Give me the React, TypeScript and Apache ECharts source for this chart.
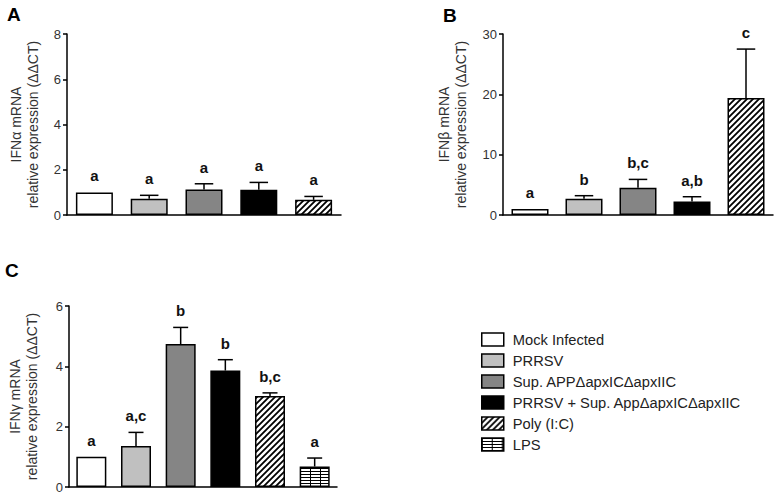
import React, { useEffect, useRef } from "react";
import * as echarts from "echarts";

const treatments = [
  "Mock Infected",
  "PRRSV",
  "Sup. APPΔapxICΔapxIIC",
  "PRRSV + Sup. AppΔapxICΔapxIIC",
  "Poly (I:C)",
  "LPS",
];

const ifnAlpha = [1.0, 0.72, 1.13, 1.12, 0.67];
const ifnAlphaErr = [0, 0.15, 0.25, 0.32, 0.15];
const ifnAlphaLetters = ["a", "a", "a", "a", "a"];
const ifnAlphaTicks = { min: 0, max: 8, interval: 2 };

const ifnBeta = [1.0, 2.7, 4.5, 2.25, 19.4];
const ifnBetaErr = [0, 0.5, 1.4, 0.78, 8.1];
const ifnBetaLetters = ["a", "b", "b,c", "a,b", "c"];
const ifnBetaTicks = { min: 0, max: 30, interval: 10 };

const ifnGamma = [1.0, 1.36, 4.74, 3.86, 3.02, 0.68];
const ifnGammaErr = [0, 0.45, 0.55, 0.36, 0.1, 0.28];
const ifnGammaLetters = ["a", "a,c", "b", "b", "b,c", "a"];
const ifnGammaTicks = { min: 0, max: 6, interval: 2 };

const FONT = "'Liberation Sans', Arial, sans-serif";

function makeHatch(): HTMLCanvasElement {
  const c = document.createElement("canvas");
  c.width = 6;
  c.height = 6;
  const ctx = c.getContext("2d")!;
  ctx.fillStyle = "#fff";
  ctx.fillRect(0, 0, 6, 6);
  ctx.strokeStyle = "#000";
  ctx.lineWidth = 1.8;
  ctx.beginPath();
  ctx.moveTo(-1, 7);
  ctx.lineTo(7, -1);
  ctx.moveTo(-4, 4);
  ctx.lineTo(4, -4);
  ctx.moveTo(2, 10);
  ctx.lineTo(10, 2);
  ctx.stroke();
  return c;
}

function makeStripes(): HTMLCanvasElement {
  const c = document.createElement("canvas");
  c.width = 10;
  c.height = 3;
  const ctx = c.getContext("2d")!;
  ctx.fillStyle = "#fff";
  ctx.fillRect(0, 0, 10, 3);
  ctx.fillStyle = "#000";
  ctx.fillRect(0, 0, 10, 1);
  ctx.fillRect(0, 0, 1, 3);
  return c;
}

export default function App() {
  const ref = useRef<HTMLDivElement>(null);

  useEffect(() => {
    if (!ref.current) return;
    const chart = echarts.init(ref.current, undefined, { renderer: "svg" });

    const colors: any[] = [
      "#ffffff",
      "#c0c0c0",
      "#858585",
      "#000000",
      { image: makeHatch(), repeat: "repeat" },
      { image: makeStripes(), repeat: "repeat" },
    ];

    const panels = [
      {
        values: ifnAlpha,
        errs: ifnAlphaErr,
        letters: ifnAlphaLetters,
        ticks: ifnAlphaTicks,
        name: "IFNα mRNA\nrelative expression (ΔΔCT)",
        grid: { left: 67, top: 34, width: 274, height: 181 },
        barWidth: 37,
        nameGap: 26,
      },
      {
        values: ifnBeta,
        errs: ifnBetaErr,
        letters: ifnBetaLetters,
        ticks: ifnBetaTicks,
        name: "IFNβ mRNA\nrelative expression (ΔΔCT)",
        grid: { left: 503, top: 34, width: 270, height: 181 },
        barWidth: 37,
        nameGap: 34,
      },
      {
        values: ifnGamma,
        errs: ifnGammaErr,
        letters: ifnGammaLetters,
        ticks: ifnGammaTicks,
        name: "IFNγ mRNA\nrelative expression (ΔΔCT)",
        grid: { left: 69, top: 306, width: 268, height: 181 },
        barWidth: 30,
        nameGap: 29,
      },
    ];

    const series: any[] = [];
    panels.forEach((p, pi) => {
      const n = p.values.length;
      for (let t = 0; t < n; t++) {
        series.push({
          type: "bar",
          name: treatments[t],
          xAxisIndex: pi,
          yAxisIndex: pi,
          stack: "panel" + pi,
          barWidth: p.barWidth,
          itemStyle: { color: colors[t], borderColor: "#000", borderWidth: 1.5 },
          data: p.values.map((v, i) => (i === t ? v : "-")),
          z: 2,
        });
      }
      const half = p.barWidth / 4;
      series.push({
        type: "custom",
        xAxisIndex: pi,
        yAxisIndex: pi,
        z: 5,
        encode: { x: 0, y: 1 },
        data: p.values.map((v, i) => [i, v, p.errs[i]]),
        renderItem: (params: any, api: any) => {
          const i = api.value(0);
          const v = api.value(1);
          const e = api.value(2);
          const base = api.coord([i, v]);
          const top = api.coord([i, v + e]);
          const children: any[] = [];
          if (e > 0) {
            children.push({
              type: "line",
              shape: { x1: base[0], y1: base[1], x2: top[0], y2: top[1] },
              style: { stroke: "#000", lineWidth: 1.5 },
            });
            children.push({
              type: "line",
              shape: { x1: top[0] - half, y1: top[1], x2: top[0] + half, y2: top[1] },
              style: { stroke: "#000", lineWidth: 1.5 },
            });
          }
          children.push({
            type: "text",
            x: top[0],
            y: top[1] - 9,
            style: {
              text: p.letters[params.dataIndex],
              fontSize: 15,
              fontWeight: "bold",
              fontFamily: FONT,
              fill: "#111",
              align: "center",
              verticalAlign: "bottom",
              textAlign: "center",
              textVerticalAlign: "bottom",
            },
          });
          return { type: "group", children };
        },
      });
    });

    const option: any = {
      animation: false,
      backgroundColor: "#fff",
      grid: panels.map((p) => ({ ...p.grid, containLabel: false })),
      xAxis: panels.map((p, pi) => ({
        type: "category",
        gridIndex: pi,
        data: treatments.slice(0, p.values.length),
        axisLine: { show: true, lineStyle: { color: "#000", width: 1.5 } },
        axisTick: { show: false },
        axisLabel: { show: false },
        splitLine: { show: false },
      })),
      yAxis: panels.map((p, pi) => ({
        type: "value",
        gridIndex: pi,
        min: p.ticks.min,
        max: p.ticks.max,
        interval: p.ticks.interval,
        name: p.name,
        nameLocation: "middle",
        nameRotate: 90,
        nameGap: p.nameGap,
        nameTextStyle: { fontSize: 14, lineHeight: 17, color: "#333", fontFamily: FONT },
        axisLine: { show: true, lineStyle: { color: "#000", width: 1.5 } },
        axisTick: { show: true, length: 4, lineStyle: { color: "#000", width: 1.5 } },
        axisLabel: { fontSize: 13, color: "#333", margin: 6, fontFamily: FONT },
        splitLine: { show: false },
      })),
      legend: {
        data: treatments,
        orient: "vertical",
        left: 481,
        top: 332,
        padding: 0,
        icon: "rect",
        itemWidth: 22,
        itemHeight: 13,
        itemGap: 6,
        selectedMode: false,
        itemStyle: { borderColor: "#000", borderWidth: 1.5 },
        textStyle: {
          fontSize: 14.7,
          color: "#222",
          fontFamily: FONT,
          padding: [0, 0, 0, 4],
        },
      },
      graphic: [
        { type: "text", left: 7, top: 5, style: { text: "A", fontSize: 19, fontWeight: "bold", fontFamily: FONT, fill: "#000" } },
        { type: "text", left: 443, top: 6, style: { text: "B", fontSize: 19, fontWeight: "bold", fontFamily: FONT, fill: "#000" } },
        { type: "text", left: 5, top: 261, style: { text: "C", fontSize: 19, fontWeight: "bold", fontFamily: FONT, fill: "#000" } },
      ],
      series,
    };

    chart.setOption(option);
    return () => chart.dispose();
  }, []);

  return (
    <div
      ref={ref}
      style={{ position: "absolute", left: 0, top: 0, width: 778, height: 495 }}
    />
  );
}
